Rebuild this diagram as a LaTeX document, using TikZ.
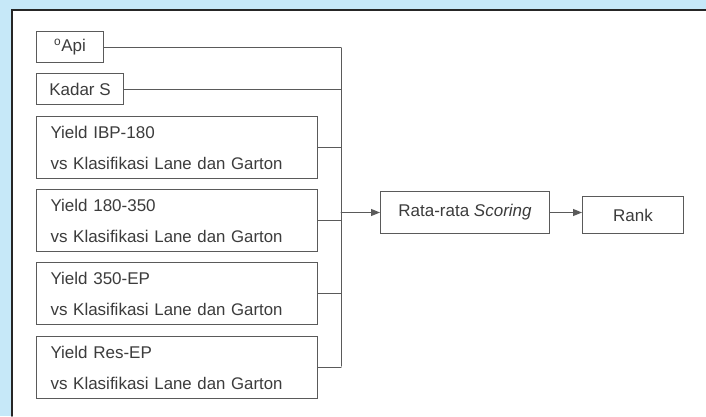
\documentclass[tikz,border=0pt]{standalone}
\usepackage{fontspec}
\setmainfont{Liberation Sans}
\usetikzlibrary{arrows.meta}

\definecolor{panelblue}{HTML}{C6E8F8}
\definecolor{boxgray}{HTML}{5A5A5A}
\definecolor{txtgray}{HTML}{3C3C3C}

\tikzset{
  inbox/.style={draw=boxgray,line width=1pt,anchor=north west,inner xsep=9pt,
    minimum height=31pt,text=txtgray,font=\fontsize{17}{19}\selectfont},
  yieldbox/.style={inbox,minimum width=281pt,minimum height=62pt,inner xsep=14pt,
    text width=253pt,align=left,font=\fontsize{17}{31}\selectfont},
  bus/.style={boxgray,line width=1pt},
  tip/.style={-{Triangle[length=9pt,width=7pt]}},
}
\newcommand{\klas}{vs Klasifikasi {\fontsize{16.8}{31}\selectfont Lane dan Garton}}

\begin{document}
\begin{tikzpicture}[x=1pt,y=-1pt,line cap=round]
    \useasboundingbox (0,0) rectangle (706,416);
    \fill[panelblue] (0,0) rectangle (706,416);
    \fill[white] (12,10) rectangle (706,416);
    \draw[black!85,line width=1.6pt] (12,416) -- (12,10) -- (706,10);

    \node[inbox,minimum width=67pt,inner xsep=6pt] (api) at (36,31)
        {\textsuperscript{o}Api\hspace{12pt}};
    \node[inbox,minimum width=87pt,inner xsep=12pt] (kadar) at (36,73) {Kadar S};
    \node[yieldbox] (ibp) at (36,116) {Yield IBP-180\\\klas};
    \node[yieldbox] (mid) at (36,189) {Yield 180-350\\\klas};
    \node[yieldbox] (ep) at (36,262) {Yield 350-EP\\\klas};
    \node[yieldbox] (res) at (36,336) {Yield Res-EP\\\klas};

    \node[inbox,minimum width=169pt,minimum height=42pt] (rata) at (380,191)
        {Rata-rata \textit{Scoring}};
    \node[inbox,minimum width=101pt,minimum height=37pt] (rank) at (582,196) {Rank};

    \coordinate (top) at (341,48);
    \coordinate (bot) at (341,366);
    \draw[bus] (top) -- (bot);
    \draw[bus] (api.east) -- (api.east -| top);
    \draw[bus] (kadar.east) -- (kadar.east -| top);
    \foreach \b in {ibp,mid,ep,res}
        \draw[bus] (\b.east) -- (\b.east -| top);
    \draw[bus,tip] (rata.west -| top) -- (rata.west);
    \draw[bus,tip] (rata.east) -- (rank.west |- rata.east);
\end{tikzpicture}
\end{document}
